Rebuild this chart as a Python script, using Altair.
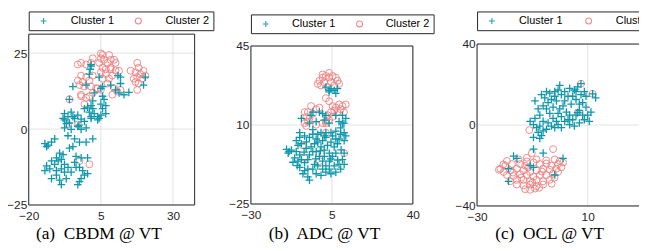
import altair as alt
import pandas as pd

TEAL = "#0e98ad"
SALMON = "#f08080"
BOX = "#262626"
GRID = "#e3e3e3"
PLUS = "M-1,0L1,0M0,-1L0,1"
CLUSTERS = ["Cluster 1", "Cluster 2"]

# ---------------- Panel (a) CBDM @ VT ----------------
p1_c1 = [(1.6,21.25),(1.3,19.7),(1.0,18.1),(4.4,17.1),(10.9,17.6),(11.8,17.1),(5.6,14.0),(8.4,14.5),
         (10.1,12.9),(11.3,11.9),(13.0,11.3),(14.7,12.1),(-4.7,14.0),(-0.1,14.5),(2.7,11.9),(5.6,10.8),
         (6.1,9.8),(5.0,8.2),(6.7,7.7),(5.6,6.7),(6.7,5.1),(5.0,4.6),(2.2,9.3),(1.6,7.7),(0.4,7.2),
         (2.2,6.7),(1.0,5.6),(2.7,5.1),(3.9,4.1),(1.6,4.1),(-0.7,6.7),(-5.9,9.8),(20.4,17.1),(19.8,14.5),
         (11.8,15.0),(1.6,20.7),(5.0,13.4),
         (-7.6,5.1),(-6.4,4.1),(-4.7,4.1),(-3.0,4.6),(-1.85,3.3),(-8.1,3.5),(3.9,3.0),(-5.3,5.6),
         (-7.6,3.0),(-5.9,2.0),(-4.1,3.5),(-0.7,2.5),(-0.1,0.4),(-1.85,-0.1),(1.6,3.5),(4.4,3.5),
         (-7.6,0.4),(-5.3,-0.1),(-3.0,0.9),(-6.4,-2.2),(-4.1,-3.2),(-2.4,-4.3),(-0.1,-4.3),(2.2,-3.2),
         (-4.7,-5.8),(-5.9,-6.3),(-14.4,-4.8),(-13.3,-5.3),(-12.1,-4.3),(-11.0,-3.2),(-13.8,-5.8),
         (-9.3,-7.9),(-8.1,-8.4),(-10.4,-9.5),(-12.1,-10.5),(-11.0,-11.6),(-9.8,-10.5),(-8.7,-10.0),
         (-7.6,-11.6),(-13.8,-12.1),(-12.7,-13.1),(-14.4,-13.7),(-10.4,-13.7),(-8.7,-13.1),(-7.6,-14.2),
         (-6.4,-12.6),(-5.3,-14.2),(-12.1,-16.3),(-10.4,-15.2),(-9.3,-16.8),(-7.0,-16.3),(-8.7,-18.3),
         (-3.6,-9.0),(-1.85,-9.5),(0.4,-9.5),(-4.1,-11.0),(-2.4,-12.6),(-3.6,-12.6),(-0.7,-15.2),
         (-1.85,-16.3),(0.4,-14.7),(-2.4,-17.3),(-3.0,-18.3),(-1.3,-13.7),(-6.9,1.8),(-2.6,1.3)]
p1_c2 = [(5.6,24.4),(5.0,23.3),(6.1,22.8),(8.4,22.8),(7.3,21.8),(4.4,21.8),(5.6,20.2),(6.7,19.7),
         (8.4,20.2),(5.0,18.7),(6.7,18.1),(9.0,17.6),(5.6,16.6),(7.85,16.6),(7.3,15.0),(10.1,19.2),
         (-1.85,21.8),(-0.1,21.25),(-3.0,21.25),(1.6,21.8),(2.2,23.3),(-1.85,17.6),(-3.0,16.0),
         (-1.3,15.5),(-0.1,17.1),(1.0,16.0),(2.2,17.6),(-2.4,14.5),(-0.7,14.0),(1.6,14.0),(3.3,13.4),
         (5.0,12.9),(-1.85,11.3),(-0.1,10.3),(1.0,10.8),(2.2,11.9),(-0.7,8.2),(9.6,13.4),(10.7,12.4),
         (9.0,11.3),(-5.9,9.8),
         (17.6,21.8),(18.1,20.2),(17.0,18.7),(15.3,19.2),(18.7,18.1),(17.6,17.1),(16.4,16.6),
         (19.3,16.6),(20.4,17.6),(18.1,15.0),(17.0,15.5),(19.8,19.2),(17.6,12.9),
         (-6.4,1.5),(-3.0,1.5),(-2.4,-10.5),(1.0,-11.6),
         (11.3,19.2),(11.8,12.9),(3.9,13.4),(-1.85,10.8),(5.0,24.9),(7.85,24.4),(9.6,22.8),
         (10.1,21.8),(8.4,19.7)]

# ---------------- Panel (b) ADC @ VT ----------------
p2_c1 = [(2.4,26.8),(4.6,26.1),(6.0,25.4),(7.4,26.1),(3.8,24.7),(6.7,24.0),(3.8,25.4),
         (-3.2,15.7),(-0.4,15.7),(1.0,15.0),(2.4,14.3),(6.7,14.3),(9.6,14.3),(11.0,12.9),(-8.2,12.9),
         (-4.0,14.3),(1.7,12.2),(3.8,10.8),(8.1,11.5),(10.2,10.8),(-1.8,11.5),(-4.7,10.8),
         (-14.6,-0.8),(-13.5,-1.8),(-12.5,-1.1),(-13.9,-2.5),(-9.65,1.0),(-8.2,1.7),(-10.4,-1.8),
         (-8.9,-3.2),(-11.1,-4.6),(-9.65,-6.0),(-8.2,-5.3),(-6.8,-6.7),(-5.4,-5.3),(-4.7,-3.2),
         (-3.25,-1.8),(-4.0,0.3),(-2.5,1.7),(-1.1,2.4),(0.3,0.3),(1.7,-1.1),(3.1,1.0),(4.6,2.4),
         (6.0,0.3),(7.4,1.7),(8.1,3.8),(8.8,5.9),(11.0,5.2),(10.3,3.1),(6.7,-2.5),(5.3,-3.9),
         (3.9,-6.0),(2.4,-8.1),(1.0,-9.5),(3.9,-9.5),(6.0,-8.1),(8.1,-7.4),(9.55,-5.3),(8.8,-9.5),
         (10.3,-7.4),(6.7,-10.9),(4.6,-11.6),(2.4,-10.9),(0.3,-12.3),(-1.8,-11.6),(-3.25,-9.5),
         (-5.4,-9.5),(-6.8,-10.2),(-8.9,-8.8),(-7.5,-11.6),(-5.4,-13.0),(-4.7,-14.4),(-2.5,-7.4),
         (-0.4,-3.9),(1.7,-3.9),(3.9,-2.5),(-1.8,-1.8),(1.0,-6.0),(-1.1,-8.1),(-6.1,-0.4),
         (-10.4,3.1),(-8.9,4.5),(-6.8,5.2),(-4.7,4.5),(-3.25,5.9),(-1.8,3.8),(1.0,3.1),(2.4,4.5),
         (5.3,5.2),(6.7,3.8),(0.3,6.6),(-3.25,8.0),(-1.1,5.9),(1.7,5.2),(4.6,6.6),(6.7,7.3),
         (8.8,8.7),(10.3,6.6),(9.55,10.8),(-8.9,6.6),(2.4,6.6),(10.3,-2.5),
         (-11.8,-6.5),(-10.0,-8.0),(-7.0,-2.0),(-2.0,-5.0),(4.5,-5.0),(7.5,-5.5),(0.0,-1.5),
         (-6.0,2.5),(9.0,-1.0)]
p2_c2 = [(1.0,31.0),(2.4,31.7),(3.8,31.0),(5.3,31.7),(6.7,31.0),(-0.4,29.6),(1.7,28.9),(4.6,28.9),
         (7.4,29.6),(0.3,27.5),(3.2,26.8),(6.0,27.5),(8.1,28.2),(-1.1,28.2),(3.8,33.1),(1.0,32.4),
         (2.4,21.9),(3.8,20.5),
         (-4.0,18.4),(-1.8,17.0),(-0.4,17.7),(-5.4,15.7),(-3.2,15.0),(-6.8,15.7),(-6.1,13.6),
         (-4.7,12.9),(-6.8,10.8),(-5.4,11.5),(5.3,18.4),(6.7,17.7),(8.1,19.1),(9.6,18.4),(11.0,19.1),
         (4.6,15.7),(6.0,16.4),(7.4,15.7),(8.8,17.0),(10.2,15.7),(3.2,14.3),(5.3,13.6),(3.8,12.2),
         (2.4,11.5),(1.0,10.8),(-6.1,9.6),(-1.8,10.1),(2.4,6.6),(-7.5,1.0),(-6.8,-4.6),(-0.4,-6.0),
         (10.3,-2.5),(2.4,10.8)]

# ---------------- Panel (c) OCL @ VT ----------------
p3_c1 = [(-10.8,1.8),(-9.6,0.2),(-8.5,-1.3),(-7.3,-0.5),(-7.9,-3.6),(-6.1,-2.9),(-4.9,-2.1),
         (-6.7,-5.2),(-9.05,3.3),(-6.1,1.8),(-4.3,1.0),(-3.1,-0.5),(-1.9,-1.3),(-0.7,0.2),(0.5,-1.3),
         (-9.05,11.9),(-7.9,8.0),(-7.3,4.9),(-6.1,9.5),(-6.7,15.0),(-4.9,16.5),(-3.7,15.7),
         (-3.1,12.6),(-1.9,14.2),(-0.7,17.3),(-0.1,19.6),(-1.3,11.9),(-4.9,8.0),(-3.7,5.7),
         (-2.5,3.3),(-0.1,8.0),(1.1,9.5),(1.7,11.9),(1.7,16.5),(3.5,18.1),(5.2,17.3),(6.4,18.8),
         (4.6,14.2),(2.9,14.2),(5.8,12.6),(7.6,15.0),(8.8,16.5),(8.2,11.1),(9.4,8.8),(7.0,7.2),
         (5.8,4.9),(4.6,2.6),(3.5,0.2),(5.2,-0.5),(7.0,1.0),(8.8,2.6),(10.6,1.8),(10.0,4.9),
         (11.2,6.4),(0.5,4.1),(2.3,6.4),(2.9,2.6),(1.7,1.8),(-0.7,5.7),(-2.5,8.8),(7.6,20.4),
         (11.8,15.4),(6.4,6.1),(-5.5,13.4),(-4.3,11.1),(-1.9,16.5),(0.5,15.0),(4.05,10.3),
         (7.0,10.3),(3.5,4.9),(8.2,4.9),(-1.3,1.8),(9.4,14.2),(5.8,16.5),(12.9,13.4),
         (-9.6,-6.1),(-7.3,-6.6),(-9.6,-11.9),(-6.1,-13.9),(-16.8,-15.4),(-15.6,-16.5),
         (-18.6,-21.6),(-10.8,-20.1),(-9.6,-20.9),(1.1,-16.5),(-1.9,-24.7),(-18.6,-27.8)]
p3_c2 = [(7.6,20.4),(11.8,15.4),(6.4,6.1),(-11.1,-2.5),(-2.5,-11.9),(-10.2,-13.9),
         (-19.2,-17.75),(-15.0,-17.0),(-12.0,-16.2),(-8.5,-17.0),(-1.9,-17.0),(-0.1,-17.75),
         (-21.55,-21.6),(-19.8,-20.1),(-17.4,-19.3),(-14.4,-19.3),(-12.6,-20.1),(-9.6,-18.5),
         (-7.3,-19.3),(-4.9,-19.0),(-3.1,-20.1),(-0.7,-19.3),(1.1,-18.5),
         (-22.1,-22.1),(-20.4,-23.2),(-18.0,-22.4),(-15.6,-21.6),(-13.2,-22.4),(-10.8,-23.2),
         (-8.5,-22.4),(-6.1,-21.6),(-3.7,-22.1),(-1.3,-21.6),(0.5,-20.9),
         (-19.2,-24.7),(-16.8,-25.2),(-14.4,-24.3),(-12.0,-24.7),(-9.6,-25.5),(-7.3,-24.7),
         (-4.9,-24.7),(-2.5,-24.0),(-0.7,-23.2),
         (-18.0,-27.8),(-15.6,-27.1),(-13.2,-27.1),(-10.8,-27.8),(-8.5,-27.1),(-6.1,-27.8),(-3.7,-27.1),
         (-15.6,-29.4),(-13.2,-29.85),(-10.8,-29.4),(-8.5,-30.2),(-6.1,-29.4),
         (-12.6,-31.7),(-10.8,-32.0),(-9.05,-31.4),
         (-17.0,-23.5),(-11.5,-21.0),(-6.5,-23.0),(-2.0,-26.0),(-14.0,-26.0),(-10.0,-28.5),
         (-12.0,-18.0),(-5.0,-17.5),(-20.5,-19.5),(-7.5,-31.0),(-3.0,-29.0)]

captions = ["(a)\u00a0 CBDM @ VT", "(b)\u00a0 ADC @ VT", "(c)\u00a0 OCL @ VT"]
x_domains = [[-20, 37.5], [-30, 40], [-30, 50]]
y_domains = [[-25, 31.25], [-25, 45], [-40, 40]]
x_ticks = [[-20, 5, 30], [-30, 5, 40], [-30, 10]]
y_ticks = [[-25, 0, 25], [-25, 10, 45], [-40, 0, 40]]

# layout (pixels inside the drawing area; the page adds its 8px margin)
W, H = 639, 235
x_ranges = [[21, 189], [246, 410], [475, 699]]
y_ranges = [[198, 25], [197, 37], [199, 35]]
caption_x = [91.5, 320, 548]
caption_baseline = 232
legend_xy = [(21, 2), (246, 5), (475, 2)]
legend_label_offset = [22, 21, 22]
legend_column_padding = [13, 13, 15]


def frame(points, name):
    return pd.DataFrame({"x": [p[0] for p in points], "y": [p[1] for p in points], "cluster": name})


def panel(i, c1, c2):
    xdom, ydom, xr, yr = x_domains[i], y_domains[i], x_ranges[i], y_ranges[i]
    xenc = alt.X("x:Q", scale=alt.Scale(domain=xdom, range=xr, nice=False, zero=False),
                 axis=alt.Axis(orient="bottom", values=x_ticks[i], title=captions[i], offset=yr[0] - H,
                               titleX=caption_x[i], titleY=caption_baseline - yr[0],
                               titleAlign="center", titleBaseline="alphabetic"))
    yenc = alt.Y("y:Q", scale=alt.Scale(domain=ydom, range=yr, nice=False, zero=False),
                 axis=alt.Axis(orient="left", values=y_ticks[i], title=None, offset=-xr[0]))
    leg = alt.Legend(orient="none", legendX=legend_xy[i][0], legendY=legend_xy[i][1],
                     direction="horizontal", columns=2, title=None,
                     labelOffset=legend_label_offset[i], columnPadding=legend_column_padding[i])
    color = alt.Color("cluster:N", scale=alt.Scale(domain=CLUSTERS, range=[TEAL, SALMON]), legend=leg)
    shape = alt.Shape("cluster:N", scale=alt.Scale(domain=CLUSTERS, range=[PLUS, "circle"]), legend=leg)

    xgrid = pd.DataFrame({"x": x_ticks[i], "y": ydom[0], "y2": ydom[1]})
    ygrid = pd.DataFrame({"y": y_ticks[i], "x": xdom[0], "x2": xdom[1]})
    box = pd.DataFrame({"x": [xdom[0]], "x2": [xdom[1]], "y": [ydom[0]], "y2": [ydom[1]]})

    gx = alt.Chart(xgrid).mark_rule(color=GRID, strokeWidth=1).encode(x=xenc, y=yenc, y2="y2:Q")
    gy = alt.Chart(ygrid).mark_rule(color=GRID, strokeWidth=1).encode(y=yenc, x=xenc, x2="x2:Q")
    frame_box = alt.Chart(box).mark_rect(fillOpacity=0, stroke=BOX, strokeWidth=1).encode(
        x=xenc, x2="x2:Q", y=yenc, y2="y2:Q")
    circles = alt.Chart(frame(c2, "Cluster 2")).mark_point(
        filled=False, size=49, strokeWidth=1.0, opacity=0.9).encode(x=xenc, y=yenc, color=color, shape=shape)
    pluses = alt.Chart(frame(c1, "Cluster 1")).mark_point(
        filled=False, size=60, strokeWidth=1.3, opacity=1).encode(x=xenc, y=yenc, color=color, shape=shape)
    return alt.layer(gx, gy, frame_box, circles, pluses)


chart = (
    alt.layer(panel(0, p1_c1, p1_c2), panel(1, p2_c1, p2_c2), panel(2, p3_c1, p3_c2))
    .resolve_scale(x="independent", y="independent", color="independent", shape="independent")
    .resolve_axis(x="independent", y="independent")
    .resolve_legend(color="independent", shape="independent")
    .properties(width=W, height=H, padding=0, autosize=alt.AutoSizeParams(type="none"))
    .configure_view(strokeOpacity=0)
    .configure_axis(labelFont="Liberation Sans", labelFontSize=12, labelColor=BOX,
                    grid=False, ticks=False, domain=False, labelFlush=False, labelOverlap=False,
                    titleFont="Liberation Serif", titleFontSize=17.5,
                    titleFontWeight="normal", titleColor="black")
    .configure_axisX(labelPadding=6)
    .configure_axisY(labelPadding=2, minExtent=0)
    .configure_legend(labelFont="Liberation Sans", labelFontSize=11, labelColor="black",
                      padding=4, strokeColor=BOX, fillColor="white",
                      symbolOffset=5.5, symbolSize=36, symbolStrokeWidth=1.1, cornerRadius=0)
)

chart.save("out.html", embed_options={"renderer": "svg", "actions": False})
